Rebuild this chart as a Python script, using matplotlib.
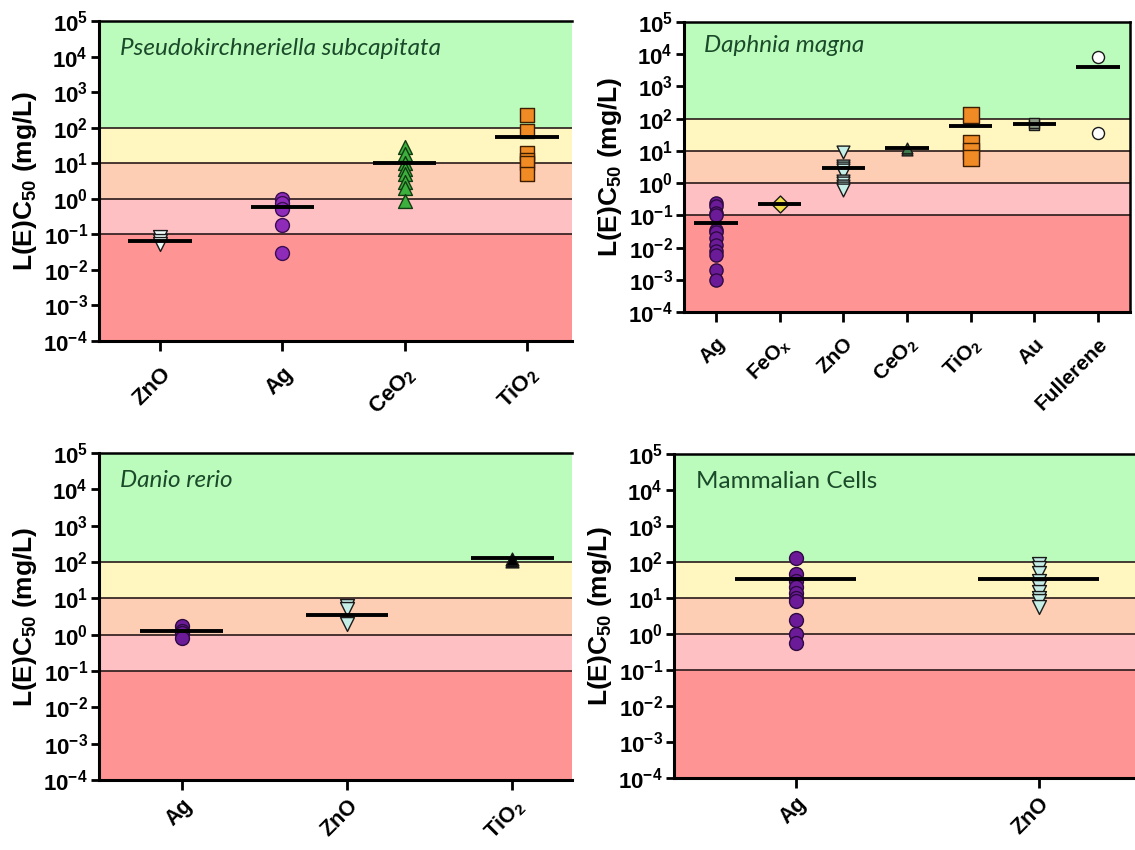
import numpy as np
import matplotlib
matplotlib.use("Agg")
import matplotlib.pyplot as plt
from matplotlib.ticker import FixedLocator, FuncFormatter

plt.rcParams['font.family'] = ['Liberation Sans', 'DejaVu Sans']
plt.rcParams['mathtext.fontset'] = 'custom'
plt.rcParams['mathtext.rm'] = 'Liberation Sans:bold'
plt.rcParams['mathtext.it'] = 'Liberation Sans:bold'
plt.rcParams['mathtext.bf'] = 'Liberation Sans:bold'
plt.rcParams['mathtext.default'] = 'rm'

# ---------------- data ----------------
# Panel 1: Pseudokirchneriella subcapitata
p1_title = "Pseudokirchneriella subcapitata"
p1_cats = ["ZnO", "Ag", "CeO$_2$", "TiO$_2$"]
p1_zno = [0.085, 0.065, 0.055]
p1_ag = [1.0, 0.75, 0.5, 0.18, 0.03]
p1_ceo2 = [28, 18, 10, 7, 5, 3, 2, 0.85]
p1_tio2 = [230, 80, 20, 12, 10, 5]
p1_lines = [0.065, 0.6, 10, 56]

# Panel 2: Daphnia magna
p2_title = "Daphnia magna"
p2_cats = ["Ag", "FeO$_x$", "ZnO", "CeO$_2$", "TiO$_2$", "Au", "Fullerene"]
p2_ag = [0.25, 0.2, 0.12, 0.1, 0.035, 0.03, 0.02, 0.012, 0.008, 0.006, 0.002, 0.001]
p2_feox = [0.22]
p2_zno = [9, 3.5, 3, 2.5, 2, 1.2, 1.0, 0.8, 0.7, 0.6]
p2_ceo2 = [11, 12]
p2_tio2 = [130, 18, 10, 6]
p2_au = [65, 75]
p2_fullerene = [8000, 35]
p2_lines = [0.057, 0.23, 3.0, 12, 58, 70, 4000]

# Panel 3: Danio rerio
p3_title = "Danio rerio"
p3_cats = ["Ag", "ZnO", "TiO$_2$"]
p3_ag = [1.7, 1.3, 1.1, 0.8]
p3_zno = [6, 5, 2]
p3_tio2 = [105, 120]
p3_lines = [1.25, 3.5, 125]

# Panel 4: Mammalian cells
p4_title = "Mammalian Cells"
p4_cats = ["Ag", "ZnO"]
p4_ag = [130, 45, 30, 20, 14, 10, 8, 2.5, 1.0, 0.55]
p4_zno = [90, 70, 50, 30, 20, 15, 10, 8, 5.5]
p4_lines = [34, 34]

# hazard bands
band_edges = [1e-4, 0.1, 1, 10, 100, 1e5]
band_colors = ['#FF9494', '#FFC0C4', '#FDCDB4', '#FFF7BF', '#BBFBBB']

W, H = 1135, 850
fig = plt.figure(figsize=(W / 100, H / 100), dpi=100)


def make_ax(x0, y0, x1, y1):
    return fig.add_axes([x0 / W, 1 - y1 / H, (x1 - x0) / W, (y1 - y0) / H])


def style_ax(ax, cats, xlim, title, italic=True, xfs=16, xpad=9, right_spine=False):
    ax.set_yscale('log')
    ax.set_ylim(1e-4, 1e5)
    ax.set_xlim(*xlim)
    for lo, hi, c in zip(band_edges[:-1], band_edges[1:], band_colors):
        ax.axhspan(lo, hi, color=c, zorder=0, lw=0)
    for b in band_edges[1:-1]:
        ax.axhline(b, color='#2a1a1a', lw=1.2, zorder=1)
    ax.yaxis.set_major_locator(FixedLocator([10.0 ** k for k in range(-4, 6)]))
    ax.yaxis.set_minor_locator(FixedLocator([]))
    ax.yaxis.set_major_formatter(FuncFormatter(lambda v, p: r'$10^{%d}$' % int(round(np.log10(v)))))
    ax.set_xticks(range(len(cats)))
    ax.set_xticklabels(cats, rotation=45, ha='right', va='top', rotation_mode='anchor',
                       fontsize=xfs, fontweight='bold')
    ax.tick_params(axis='y', labelsize=16, width=2, length=6, direction='out', pad=2)
    ax.tick_params(axis='x', width=2, length=7, direction='out', pad=xpad)
    for lab in ax.get_yticklabels():
        lab.set_fontweight('bold')
    for s in ['left', 'bottom']:
        ax.spines[s].set_linewidth(2.2)
    ax.spines['top'].set_linewidth(1.8)
    ax.spines['right'].set_visible(right_spine)
    ax.spines['right'].set_linewidth(1.8)
    ax.set_ylabel("L(E)C$_{50}$ (mg/L)", fontsize=19, fontweight='bold', labelpad=3)
    ax.text(0.045, 0.895, title, transform=ax.transAxes, fontsize=17.5,
            family=['Lato', 'DejaVu Sans'], style='italic' if italic else 'normal',
            color='#1B4A2A', va='baseline', ha='left', zorder=5)


def pts(ax, x, vals, marker, fc, ec='#1a1a1a', s=100, lw=1.0):
    ax.scatter([x] * len(vals), vals, marker=marker, s=s, facecolor=fc,
               edgecolor=ec, linewidths=lw, zorder=3)


def mlines(ax, vals, half):
    for i, v in enumerate(vals):
        ax.plot([i - half, i + half], [v, v], color='black', lw=2.8, zorder=4,
                solid_capstyle='butt')


# Panel 1
ax1 = make_ax(99, 21, 572, 341)
style_ax(ax1, p1_cats, (-0.5, 3.37), p1_title)
pts(ax1, 0, p1_zno, 'v', '#EEFFFB')
pts(ax1, 1, p1_ag, 'o', '#8E2BB8', ec='#3b0d52')
pts(ax1, 2, p1_ceo2, '^', '#3DAF3D', ec='#123d12')
pts(ax1, 3, p1_tio2, 's', '#F08A24', ec='#3d1d00')
mlines(ax1, p1_lines, 0.26)

# Panel 2
ax2 = make_ax(684, 22, 1130, 312)
style_ax(ax2, p2_cats, (-0.5, 6.5), p2_title, xfs=15, right_spine=True)
pts(ax2, 0, p2_ag, 'o', '#6C1B98', ec='#2e0a42', s=90)
pts(ax2, 1, p2_feox, 'D', '#F2E04A', s=75)
pts(ax2, 2, p2_zno, 'v', '#C5EFE6', s=85)
pts(ax2, 3, p2_ceo2, '^', '#3F7A4C', s=60)
pts(ax2, 4, p2_tio2, 's', '#F08A24', ec='#3d1d00', s=120)
pts(ax2, 5, p2_au, 's', '#8C9A84', s=60)
pts(ax2, 6, p2_fullerene, 'o', 'white', s=75)
mlines(ax2, p2_lines, 0.34)

# Panel 3
ax3 = make_ax(99, 453, 572, 780)
style_ax(ax3, p3_cats, (-0.5, 2.36), p3_title, xfs=15.5, xpad=4)
pts(ax3, 0, p3_ag, 'o', '#6C1B98', ec='#2e0a42')
pts(ax3, 1, p3_zno, 'v', '#C5EFE6')
pts(ax3, 2, p3_tio2, '^', 'black', s=85)
mlines(ax3, p3_lines, 0.25)

# Panel 4
ax4 = make_ax(674, 454, 1160, 778)
style_ax(ax4, p4_cats, (-0.5, 1.5), p4_title, italic=False, xfs=15.5, xpad=4)
pts(ax4, 0, p4_ag, 'o', '#6C1B98', ec='#2e0a42')
pts(ax4, 1, p4_zno, 'v', '#C5EFE6')
mlines(ax4, p4_lines, 0.25)

fig.savefig("out.png", dpi=100)
